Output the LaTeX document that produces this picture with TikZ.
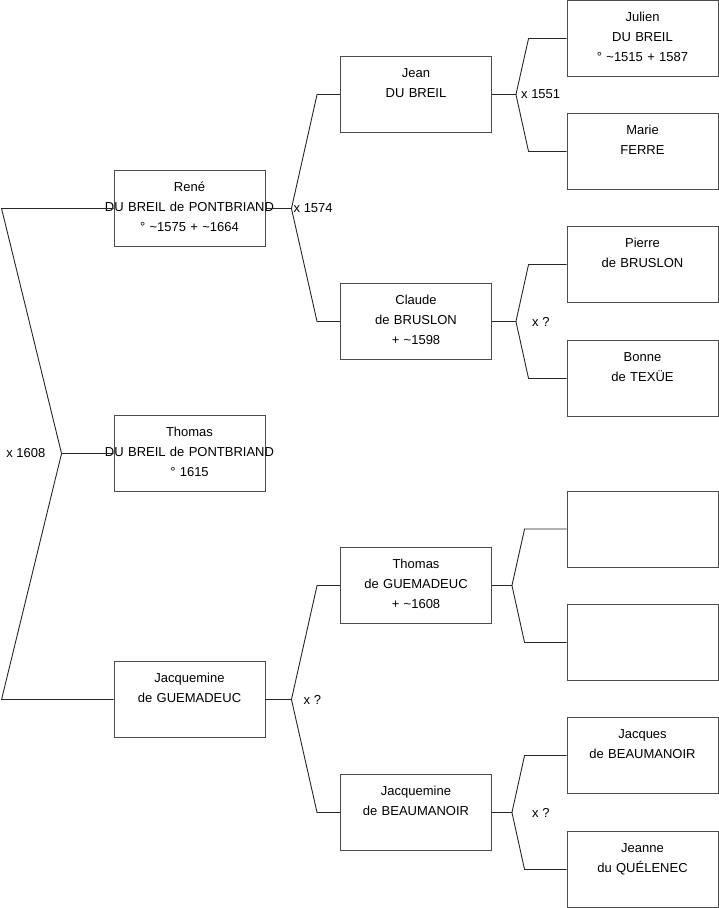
\documentclass[tikz,border=0pt]{standalone}
\usepackage{fontspec}
\setmainfont{Liberation Sans}
\usetikzlibrary{positioning}

\begin{document}
\begin{tikzpicture}[x=1pt, y=-1pt,
		person/.style={rectangle, draw=black!70, line width=0.9pt,
				minimum width=151pt, minimum height=76pt,
				text width=141pt, align=center, inner sep=5pt,
				font=\fontsize{13}{20}\selectfont,
				execute at begin node={\rule{0pt}{10pt}},
				execute at end node={\rule[-5pt]{0pt}{0pt}}},
		link/.style={draw=black!85, line width=0.9pt},
		wed/.style={font=\fontsize{13}{16}\selectfont, inner sep=0pt},
		]
		\useasboundingbox (0,0) rectangle (719,908);

		% ---- Colonne 1 ----
		\node[person] (rene) at (189.5,208.5)
		{René\\\makebox[0pt]{DU BREIL de PONTBRIAND}\\° \textasciitilde1575 + \textasciitilde1664};
		\node[person] (thomasdb) at (189.5,453.5)
		{Thomas\\\makebox[0pt]{DU BREIL de PONTBRIAND}\\° 1615};
		\node[person] (jacq) at (189.5,699.5)
		{Jacquemine\\de GUEMADEUC\\\mbox{}};

		% ---- Colonne 2 ----
		\node[person] (jean) at (416,94.5) {Jean\\DU BREIL\\\mbox{}};
		\node[person] (claude) at (416,321.5) {Claude\\de BRUSLON\\+ \textasciitilde1598};
		\node[person] (thomasg) at (416,585.5) {Thomas\\de GUEMADEUC\\+ \textasciitilde1608};
		\node[person] (jacqb) at (416,812.5) {Jacquemine\\de BEAUMANOIR\\\mbox{}};

		% ---- Colonne 3 ----
		\node[person] (julien) at (642.5,38.5) {Julien\\DU BREIL\\° \textasciitilde1515 + 1587};
		\node[person] (marie) at (642.5,151.5) {Marie\\FERRE\\\mbox{}};
		\node[person] (pierre) at (642.5,264.5) {Pierre\\de BRUSLON\\\mbox{}};
		\node[person] (bonne) at (642.5,378.5) {Bonne\\de TEXÜE\\\mbox{}};
		\node[person] (vide1) at (642.5,529) {};
		\node[person] (vide2) at (642.5,642.5) {};
		\node[person] (jacques) at (642.5,755.5) {Jacques\\de BEAUMANOIR\\\mbox{}};
		\node[person] (jeanne) at (642.5,869.5) {Jeanne\\du QUÉLENEC\\\mbox{}};

		% ---- Liens ----
		\draw[link] (thomasdb.west) -- ++(-52,0) coordinate (f0)
		-- ([xshift=-112pt]rene.west) -- (rene.west);
		\draw[link] (f0) -- ([xshift=-112pt]jacq.west) -- (jacq.west);

		\draw[link] (rene.east) -- ++(26,0) coordinate (f1)
		-- ([xshift=-23pt]jean.west) -- (jean.west);
		\draw[link] (f1) -- ([xshift=-23pt]claude.west) -- (claude.west);

		\draw[link] (jacq.east) -- ++(26,0) coordinate (f2)
		-- ([xshift=-23pt]thomasg.west) -- (thomasg.west);
		\draw[link] (f2) -- ([xshift=-23pt]jacqb.west) -- (jacqb.west);

		\draw[link] (jean.east) -- ++(24,0) coordinate (f3)
		-- ([xshift=-38pt]julien.west) -- (julien.west);
		\draw[link] (f3) -- ([xshift=-38pt]marie.west) -- (marie.west);

		\draw[link] (claude.east) -- ++(24,0) coordinate (f4)
		-- ([xshift=-38pt]pierre.west) -- (pierre.west);
		\draw[link] (f4) -- ([xshift=-38pt]bonne.west) -- (bonne.west);

		\draw[link] (thomasg.east) -- ++(20,0) coordinate (f5)
		-- ([xshift=-42pt]vide1.west) -- (vide1.west);
		\draw[link] (f5) -- ([xshift=-42pt]vide2.west) -- (vide2.west);

		\draw[link] (jacqb.east) -- ++(20,0) coordinate (f6)
		-- ([xshift=-42pt]jacques.west) -- (jacques.west);
		\draw[link] (f6) -- ([xshift=-42pt]jeanne.west) -- (jeanne.west);

		% ---- Mariages ----
		\node[wed, left=16pt of f0] (w0) {x 1608};
		\node[wed, right=2pt of f1] (w1) {x 1574};
		\node[wed, right=12pt of f2] (w2) {x ?};
		\node[wed, right=5pt of f3] (w3) {x 1551};
		\node[wed, right=16pt of f4] (w4) {x ?};
		\node[wed, right=20pt of f6] (w6) {x ?};

	\end{tikzpicture}
\end{document}
